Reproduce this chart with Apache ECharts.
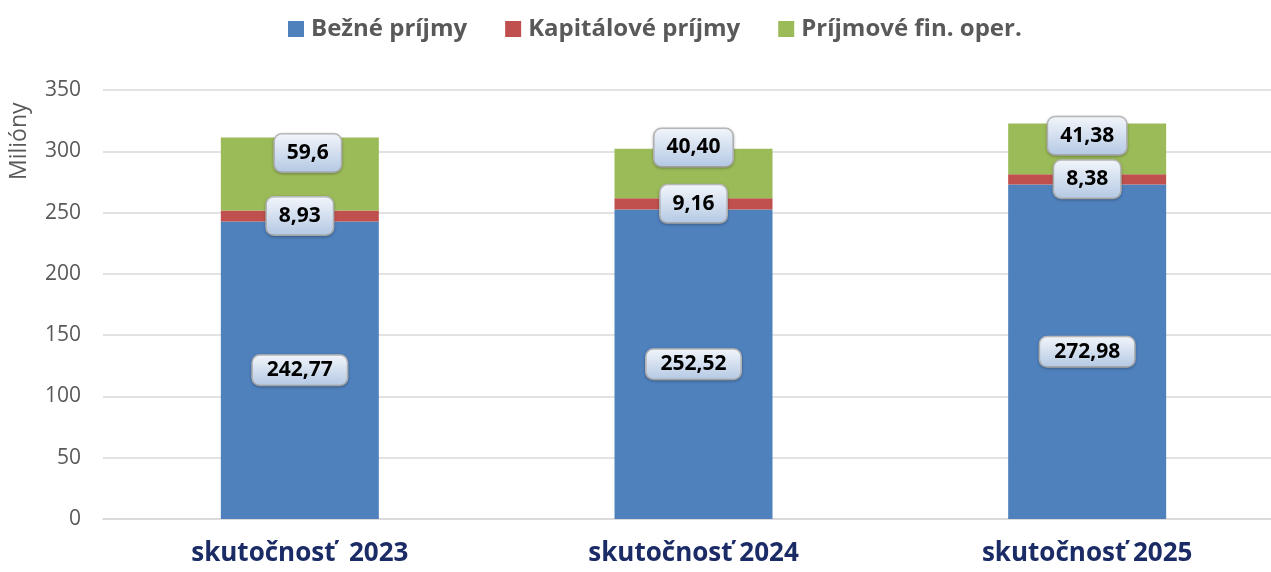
<!DOCTYPE html>
<html>
<head>
<meta charset="utf-8">
<script src="https://cdn.jsdelivr.net/npm/echarts@6/dist/echarts.min.js"></script>
<style>html,body{margin:0;padding:0;background:#fff}#c{width:1271px;height:572px}</style>
</head>
<body>
<div id="c"></div>
<script>
const categories = ['skutočnosť  2023', 'skutočnosť 2024', 'skutočnosť 2025'];
const seriesNames = ['Bežné príjmy', 'Kapitálové príjmy', 'Príjmové fin. oper.'];
const bezne = [242.77, 252.52, 272.98];
const kapitalove = [8.93, 9.16, 8.38];
const financne = [59.6, 40.40, 41.38];
const bezneLabels = ['242,77', '252,52', '272,98'];
const kapitaloveLabels = ['8,93', '9,16', '8,38'];
const financneLabels = ['59,6', '40,40', '41,38'];
const yTicks = [0, 50, 100, 150, 200, 250, 300, 350];

const greenOffsets = [[8, -21], [0, -26], [0, -13]];

const chart = echarts.init(document.getElementById('c'), null, {renderer: 'canvas'});

function boxLabel(texts, pad) {
  return {
    show: true,
    position: 'inside',
    formatter: p => texts[p.dataIndex],
    color: '#000',
    fontFamily: 'Open Sans',
    fontWeight: 'bold',
    fontSize: 21,
    padding: pad,
    borderRadius: 7,
    borderColor: '#bcbcbc',
    borderWidth: 1.5,
    backgroundColor: new echarts.graphic.LinearGradient(0, 0, 0, 1, [
      {offset: 0, color: '#f3f6fb'},
      {offset: 1, color: '#b3c8e3'}
    ]),
    shadowColor: 'rgba(0,0,0,0.25)',
    shadowBlur: 3,
    shadowOffsetY: 1
  };
}

const option = {
  animation: false,
  backgroundColor: '#fff',
  textStyle: {fontFamily: 'Open Sans'},
  legend: {
    top: 12,
    left: 283,
    itemWidth: 16,
    itemHeight: 16,
    itemGap: 38,
    icon: 'rect',
    textStyle: {fontFamily: 'Open Sans', fontWeight: 'bold', fontSize: 24, color: '#595959', padding: [0, 0, 0, 2]},
    data: seriesNames
  },
  grid: {left: 103, right: -13, top: 90, bottom: 53, containLabel: false, outerBoundsMode: 'none'},
  xAxis: {
    type: 'category',
    data: categories,
    axisTick: {show: false},
    axisLine: {lineStyle: {color: '#d9d9d9', width: 1.5}},
    axisLabel: {
      fontFamily: 'Open Sans',
      fontWeight: 'bold',
      fontSize: 26,
      color: '#1b2b66',
      margin: 22
    }
  },
  yAxis: {
    type: 'value',
    min: yTicks[0],
    max: yTicks[yTicks.length - 1],
    interval: 50,
    axisLine: {show: false},
    axisTick: {show: false},
    axisLabel: {fontFamily: 'Open Sans', fontSize: 21, color: '#595959', margin: 22},
    splitLine: {lineStyle: {color: '#d9d9d9', width: 1.5}}
  },
  graphic: [{
    type: 'text',
    x: 8,
    y: 180,
    rotation: Math.PI / 2,
    style: {text: 'Milióny', font: '23px "Open Sans"', fill: '#595959'}
  }],
  series: [
    {
      name: seriesNames[0], type: 'bar', stack: 's', barWidth: 158,
      itemStyle: {color: '#4F81BD'},
      data: bezne,
      label: boxLabel(bezneLabels, [4, 14, 4, 14])
    },
    {
      name: seriesNames[1], type: 'bar', stack: 's', barWidth: 158,
      itemStyle: {color: '#C0504D'},
      data: kapitalove,
      label: boxLabel(kapitaloveLabels, [8, 12, 8, 12])
    },
    {
      name: seriesNames[2], type: 'bar', stack: 's', barWidth: 158,
      itemStyle: {color: '#9BBB59'},
      data: financne.map((v, i) => ({value: v, label: {offset: greenOffsets[i]}})),
      label: boxLabel(financneLabels, [8, 12, 8, 12])
    }
  ]
};
chart.setOption(option);
</script>
</body>
</html>
